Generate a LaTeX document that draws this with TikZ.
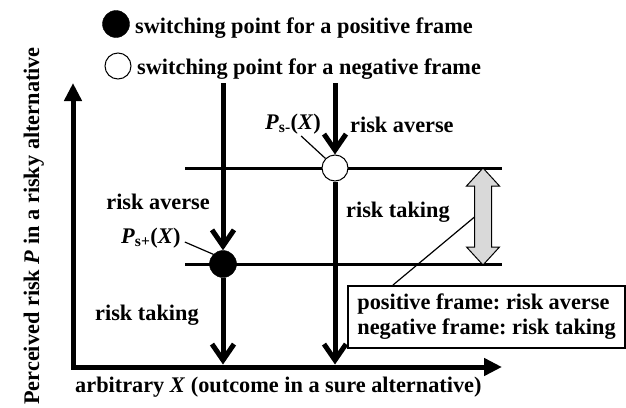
\documentclass[tikz,border=0pt]{standalone}
\usepackage{xcolor}
\usepackage{fontspec}
\setmainfont{Liberation Serif}
\usepackage{tikz}
\usetikzlibrary{arrows.meta,calc}
\definecolor{ink}{HTML}{000000}
\definecolor{band}{HTML}{D9D9D9}
\frenchspacing

\tikzset{
  lbl/.style={font=\fontsize{22.3}{25}\selectfont\bfseries, text=ink, inner sep=0pt},
  axis/.style={draw=ink, line width=5pt,
    {Triangle[length=18pt,width=17pt]}-{Triangle[length=18pt,width=17pt]}},
  flow/.style={draw=ink, line width=5pt, -{Straight Barb[length=16pt,width=22pt]}},
  level/.style={draw=ink, line width=3pt},
  leader/.style={draw=ink, line width=1.2pt},
  dotpos/.style={circle, draw=ink, fill=ink, minimum size=27pt, inner sep=0pt},
  dotneg/.style={circle, draw=ink, fill=white, line width=1pt, minimum size=26pt, inner sep=0pt},
}

\begin{document}
\begin{tikzpicture}[x=1pt,y=-1pt]
    \useasboundingbox (0,0) rectangle (626,407);

    % legend
    \node[dotpos] (keypos) at (116,24) {};
    \node[dotneg] (keyneg) at (118,66) {};
    \node[lbl, anchor=base west] (keypostext) at (135,33) {switching point for a positive frame};
    \node[lbl, anchor=base west] (keynegtext) at (137,74) {switching point for a negative frame};

    % axes
    \coordinate (ytop) at (73,83);
    \coordinate (origin) at (73,367);
    \coordinate (xend) at (502,367);
    \draw[axis] (ytop) -- (origin) -- (xend);
    \node[lbl, rotate=90, anchor=base] (ylabel) at (39,226) {Perceived risk \textit{P} in a risky alternative};
    \node[lbl, anchor=base west] (xlabel) at (75,392) {arbitrary \textit{X} (outcome in a sure alternative)};

    % the two switching levels
    \coordinate (hiL) at (185,168);
    \coordinate (hiR) at (502,168);
    \coordinate (loL) at (185,264);
    \coordinate (loR) at (502,264);
    \draw[level] (hiL) -- (hiR);
    \draw[level] (loL) -- (loR);

    % switching points
    \node[dotneg] (pminus) at (335,168) {};
    \node[dotpos] (pplus) at (223,264) {};

    \coordinate (topL) at (223,83);
    \coordinate (topR) at (335,83);
    \coordinate (footL) at (223,364.5);
    \coordinate (footR) at (335,364.5);
    \draw[flow] (topL) -- (pplus.north);
    \draw[flow] (pplus.south) -- (footL);
    \draw[flow] (topR) -- (pminus.north);
    \draw[flow] (pminus.south) -- (footR);

    \node[lbl, anchor=base west] (psminus) at (265,129) {\textit{P}\textsubscript{s-}(\textit{X})};
    \node[lbl, anchor=base west] (psplus) at (121,243) {\textit{P}\textsubscript{s+}(\textit{X})};
    \draw[leader] (psminus.south) ++(8,2) -- (pminus.north west);
    \draw[leader] (psplus.base east) ++(4,-1) -- (pplus.north west);

    \node[lbl, anchor=base west] (averseR) at (350,132) {risk averse};
    \node[lbl, anchor=base west] (takingR) at (346,217) {risk taking};
    \node[lbl, anchor=base east] (averseL) at (210,209) {risk averse};
    \node[lbl, anchor=base west] (takingL) at (95,320) {risk taking};

    % grey double arrow between the levels
    \draw[draw=ink, fill=band, line width=1pt]
      (483,168) -- (499.5,186) -- (491.5,186) -- (491.5,247) -- (499.5,247)
      -- (483,265) -- (466.5,247) -- (474.5,247) -- (474.5,186) -- (466.5,186) -- cycle;
    \coordinate (spanmid) at (474.5,217);

    \node[lbl, draw=ink, fill=white, line width=2pt, anchor=north west, minimum width=277pt,
          minimum height=62pt, align=left, inner xsep=8pt] (note) at (347,285)
      {positive frame: risk averse\\negative frame: risk taking};
    \draw[leader] (note.north west) ++(46,0) -- (spanmid);
\end{tikzpicture}
\end{document}
